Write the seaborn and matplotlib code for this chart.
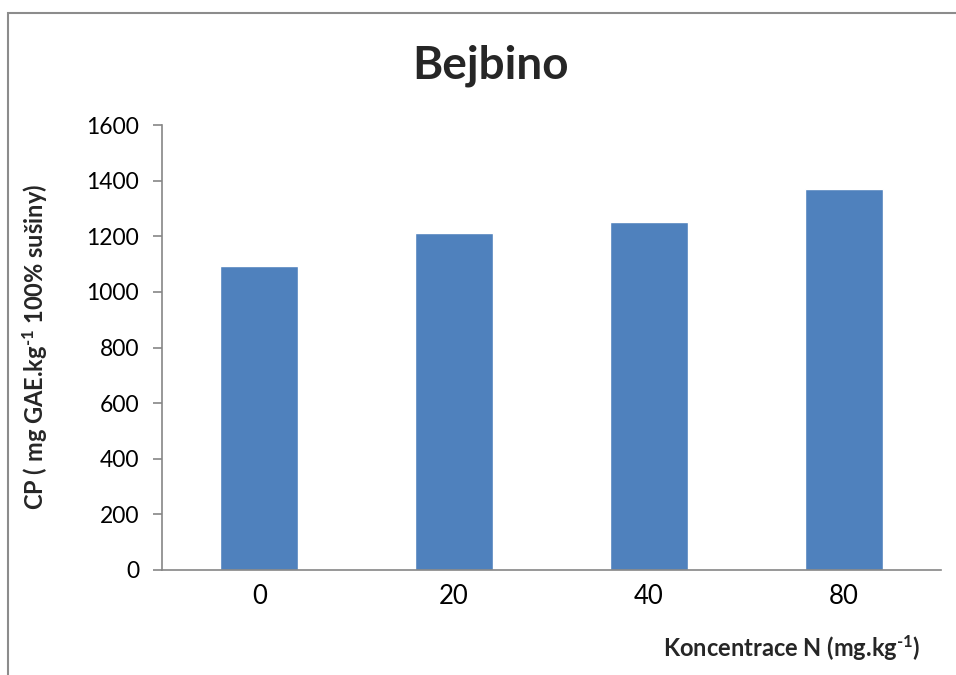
import matplotlib
matplotlib.use("Agg")
import matplotlib.pyplot as plt
from matplotlib.patches import Rectangle
import seaborn as sns
import pandas as pd

# Nitrogen dose categories and total polyphenol content
koncentrace = ["0", "20", "40", "80"]
cp_hodnoty = [1093, 1212, 1253, 1370]
y_ticks = [0, 200, 400, 600, 800, 1000, 1200, 1400, 1600]

sns.set_theme(style="white")
plt.rcParams["font.family"] = ["Lato", "DejaVu Sans"]
plt.rcParams["mathtext.fontset"] = "custom"
plt.rcParams["mathtext.rm"] = "Lato:bold"
plt.rcParams["mathtext.bf"] = "Lato:bold"
plt.rcParams["mathtext.it"] = "Lato:italic"

df = pd.DataFrame({"Koncentrace": koncentrace, "CP": cp_hodnoty})

fig = plt.figure(figsize=(9.56, 6.75), dpi=100)
ax = fig.add_axes([162 / 956, 1 - 570 / 675, (941 - 162) / 956, (570 - 125) / 675])

sns.barplot(data=df, x="Koncentrace", y="CP", order=koncentrace,
            color="#4F81BD", saturation=1, width=0.4, ax=ax)

ax.set_xlim(-0.5, 3.5)
ax.set_ylim(0, 1600)
ax.set_yticks(y_ticks)
ax.set_yticklabels([str(v) for v in y_ticks])

axis_col = "#868686"
for side in ["top", "right"]:
    ax.spines[side].set_visible(False)
for side in ["left", "bottom"]:
    ax.spines[side].set_color(axis_col)
    ax.spines[side].set_linewidth(1.2)

ax.tick_params(axis="y", which="both", left=True, length=6.5, width=1.2,
               color=axis_col, labelsize=16.5, pad=10, labelcolor="black")
ax.tick_params(axis="x", which="both", bottom=False, labelsize=18.5, pad=4,
               labelcolor="black")

sup = r"$^{\text{-}1}$"

ax.set_xlabel("")
ax.set_ylabel("CP ( mg GAE.kg" + sup + " 100% sušiny)", fontsize=17,
              fontweight="bold")
ax.yaxis.set_label_coords((49 - 162) / 779, (570 - 347) / 445)

fig.text(920 / 956, 1 - 648 / 675, "Koncentrace N (mg.kg" + sup + ")",
         ha="right", va="center", fontsize=17, fontweight="bold")

fig.text(490 / 956, 1 - 66 / 675, "Bejbino", ha="center", va="center",
         fontsize=33, fontweight="bold")

# chart area frame
fig.patches.append(Rectangle((8 / 956, -0.1), 1.2, 1 - 13 / 675 + 0.1,
                             transform=fig.transFigure, fill=False,
                             edgecolor="#8c8c8c", linewidth=1.5))

fig.savefig("out.png", dpi=100)
